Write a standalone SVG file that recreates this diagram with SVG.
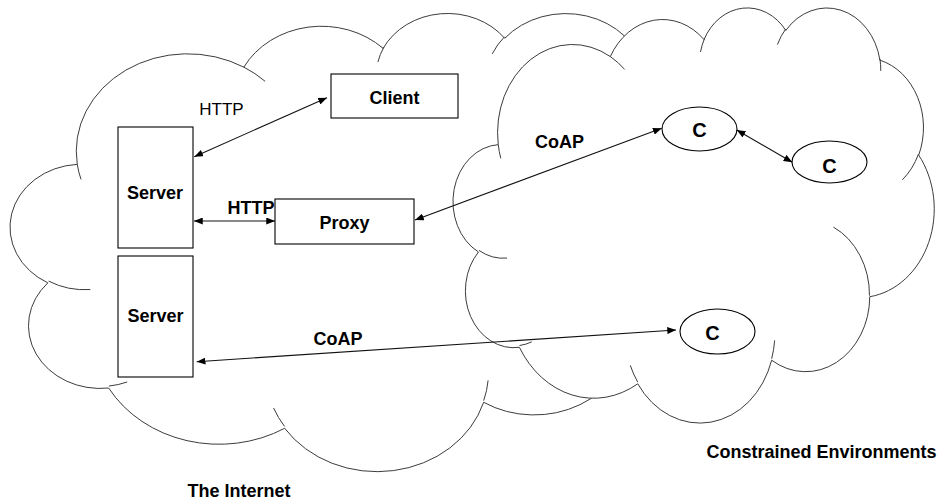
<svg xmlns="http://www.w3.org/2000/svg" xmlns:xlink="http://www.w3.org/1999/xlink" width="943" height="501" viewBox="0 0 943 501">
<style>
.cl{fill:#fff;stroke:#3c3c3c;stroke-width:1;vector-effect:non-scaling-stroke}
.cu{fill:none;stroke:#3c3c3c;stroke-width:1;vector-effect:non-scaling-stroke}
.box{fill:#fff;stroke:#000;stroke-width:1.1}
.con{fill:none;stroke:#111;stroke-width:1.1;marker-start:url(#ah);marker-end:url(#ah)}
text{font-family:"Liberation Sans",Arial,sans-serif;fill:#000;text-anchor:middle}
.b{font-weight:bold;font-size:18px}
.r{font-size:17px}
.c{font-weight:bold;font-size:20px}
</style>
<defs>
<marker id="ah" viewBox="0 0 10 8" refX="10" refY="4" markerWidth="9" markerHeight="7" markerUnits="userSpaceOnUse" orient="auto-start-reverse">
<path d="M0,0 L10,4 L0,8 z" fill="#000"/>
</marker>
<path id="cloudOutline" class="cl" d="M 39 143.7 A 67.53 91.90 0 0 1 140.06 52.03 A 53.33 72.67 0 0 1 224.58 34.31 A 43.65 59.45 0 0 1 298.35 24.78 A 48.57 65.95 0 0 1 383.20 55.74 A 53.33 72.73 0 0 1 418.20 154.58 A 67.75 92.20 0 0 1 374.06 302.01 A 57.85 78.67 0 0 1 285.58 368.12 A 67.52 92.15 0 0 1 164.83 392.64 A 77.20 105.43 0 0 1 58.06 354.69 A 43.60 59.18 0 0 1 21.15 255.48 A 43.45 59.45 0 0 1 39 143.7 Z"/>
<path id="cloudCurls" class="cu" d="M 46.93 261.77 A 43.45 59.45 0 0 1 21.60 253.80 M 69.28 348.99 A 43.60 59.18 0 0 1 58.19 352.81 M 164.78 390.90 A 67.52 92.15 0 0 1 158.09 373.48 M 288.27 347.51 A 67.52 92.15 0 0 1 285.60 366.60 M 341.29 229.54 A 57.85 78.67 0 0 1 373.80 300.89 M 417.98 153.54 A 53.33 72.73 0 0 1 403.49 180.31 M 383.24 54.26 A 48.57 65.95 0 0 1 384.00 66.90 M 290.78 39.52 A 48.57 65.95 0 0 1 298.20 23.40 M 221.41 47.20 A 43.65 59.45 0 0 1 225.00 33.31 M 140.00 51.92 A 67.53 91.90 0 0 1 152.99 65.40 M 41.27 157.89 A 67.53 91.90 0 0 1 39.00 143.71"/>
</defs>
<rect width="943" height="501" fill="#fff"/>
<g id="internet-cloud" transform="translate(13,12) scale(1.6481,1.0602)">
<use xlink:href="#cloudOutline" href="#cloudOutline"/>
<use xlink:href="#cloudCurls" href="#cloudCurls"/>
</g>
<g id="constrained-cloud" transform="translate(455,6.6) scale(1.1088,0.9606)">
<use xlink:href="#cloudOutline" href="#cloudOutline"/>
<use xlink:href="#cloudCurls" href="#cloudCurls"/>
</g>
<g id="client"><rect class="box" x="331" y="74" width="127" height="44"/><text class="b" x="394.5" y="104">Client</text></g>
<g id="server1"><rect class="box" x="118" y="127" width="75" height="121"/><text class="b" x="155" y="199">Server</text></g>
<g id="server2"><rect class="box" x="118" y="256" width="75" height="121"/><text class="b" x="155.5" y="322">Server</text></g>
<g id="proxy"><rect class="box" x="275" y="199" width="139" height="45"/><text class="b" x="344.5" y="229">Proxy</text></g>
<g id="c1"><ellipse class="box" cx="699.5" cy="129" rx="37.5" ry="22"/><text class="c" x="699.5" y="137">C</text></g>
<g id="c2"><ellipse class="box" cx="829.5" cy="162" rx="37.5" ry="21"/><text class="c" x="829.5" y="173">C</text></g>
<g id="c3"><ellipse class="box" cx="717.5" cy="331.5" rx="37.5" ry="22.5"/><text class="c" x="712.5" y="340">C</text></g>
<g id="connectors">
<line class="con" x1="194.3" y1="156.7" x2="327" y2="97.7"/>
<line class="con" x1="194" y1="221" x2="275" y2="221"/>
<line class="con" x1="415" y1="220" x2="661.7" y2="128.3"/>
<line class="con" x1="736.7" y1="130" x2="792.3" y2="162.3"/>
<line class="con" x1="196.7" y1="361.7" x2="676" y2="330"/>
</g>
<g id="labels">
<text class="r" x="221.5" y="115">HTTP</text>
<text class="b" x="251" y="214">HTTP</text>
<text class="b" x="559.5" y="148">CoAP</text>
<text class="b" x="338" y="345">CoAP</text>
<text class="b" x="821.5" y="458">Constrained Environments</text>
<text class="b" x="239" y="497">The Internet</text>
</g>
</svg>
